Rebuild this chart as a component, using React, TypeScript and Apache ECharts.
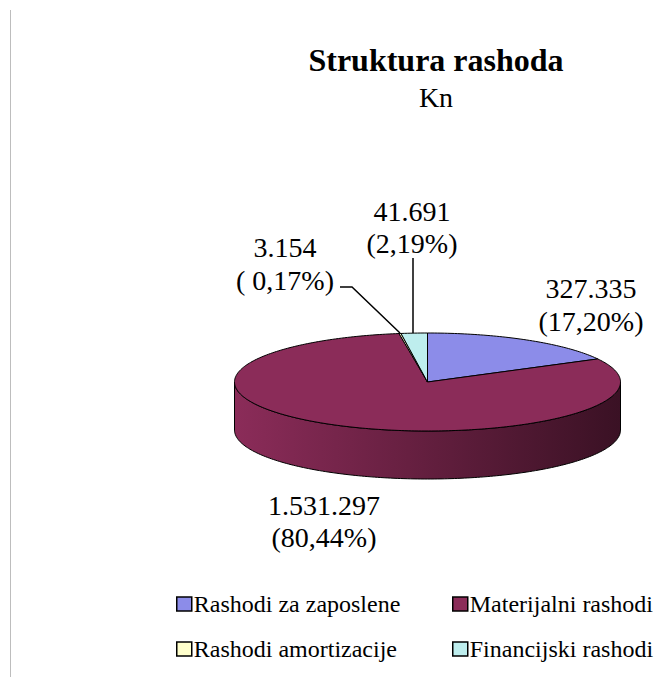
import React, { useEffect, useRef } from 'react';
import * as echarts from 'echarts';

const categories = ['Rashodi za zaposlene', 'Materijalni rashodi', 'Rashodi amortizacije', 'Financijski rashodi'];
const values = [327335, 1531297, 3154, 41691];
const percentLabels = ['17,20%', '80,44%', ' 0,17%', '2,19%'];

const colors = ['#8C8CE9', '#8B2C59', '#FFFFCC', '#BEEEEE'];
const sideDark = ['#3A3A80', '#3A1124', '#80806A', '#5A7A7A'];

const W = 662;
const H = 677;
const CX = 427.5;
const CY = 382;
const RX = 193;
const RY = 49;
const DEPTH = 48;

const FONT = 'Liberation Serif';

function fmt(v: number): string {
  return String(v).replace(/\B(?=(\d{3})+(?!\d))/g, '.');
}

const total = values.reduce((a, b) => a + b, 0);

function sliceAngles(i: number): [number, number] {
  let s = 0;
  for (let k = 0; k < i; k++) s += values[k];
  return [(s / total) * 360, ((s + values[i]) / total) * 360];
}

function pt(deg: number, dy = 0): number[] {
  const r = (deg * Math.PI) / 180;
  return [CX + RX * Math.sin(r), CY - RY * Math.cos(r) + dy];
}

function arc(a: number, b: number, dy = 0): number[][] {
  const pts: number[][] = [];
  const n = Math.max(2, Math.ceil(Math.abs(b - a) / 1));
  for (let j = 0; j <= n; j++) pts.push(pt(a + ((b - a) * j) / n, dy));
  return pts;
}

// label layout (positions only): centre x, then centre y of each line
const labelPos = [
  [591, 288, 321],
  [324, 505, 537],
  [285, 247, 280],
  [412, 211, 243],
];

export default function App() {
  const ref = useRef<HTMLDivElement>(null);

  useEffect(() => {
    if (!ref.current) return;
    const chart = echarts.init(ref.current, undefined, { renderer: 'svg' });

    const sideSeries: any = {
      type: 'custom',
      name: 'side',
      coordinateSystem: 'none',
      z: 1,
      silent: true,
      data: values.map((v, i) => [i, v]),
      renderItem: (params: any) => {
        const i = params.dataIndex;
        const [a, b] = sliceAngles(i);
        const lo = Math.max(a, 90);
        const hi = Math.min(b, 270);
        if (lo >= hi) return null;
        const points = [...arc(lo, hi, 0), ...arc(hi, lo, DEPTH)];
        return {
          type: 'polygon',
          shape: { points },
          style: {
            fill: new echarts.graphic.LinearGradient(
              CX - RX, 0, CX + RX, 0,
              [
                { offset: 0, color: colors[i] },
                { offset: 0.45, color: echarts.color.lerp(0.45, [colors[i], sideDark[i]]) as string },
                { offset: 1, color: sideDark[i] },
              ],
              true
            ),
            stroke: '#000',
            lineWidth: 1,
            lineJoin: 'round',
          },
        };
      },
    };

    const topSeries: any[] = categories.map((name, i) => ({
      type: 'custom',
      name,
      coordinateSystem: 'none',
      z: 3,
      silent: true,
      itemStyle: { color: colors[i] },
      data: [[values[i]]],
      renderItem: () => {
        const [a, b] = sliceAngles(i);
        return {
          type: 'polygon',
          shape: { points: [[CX, CY], ...arc(a, b, 0)] },
          style: { fill: colors[i], stroke: '#000', lineWidth: 1, lineJoin: 'round' },
        };
      },
    }));

    const legendPos = [
      [176, 592],
      [452, 592],
      [176, 637],
      [452, 637],
    ];

    const legends = categories.map((name, i) => ({
      data: [name],
      left: legendPos[i][0],
      top: legendPos[i][1],
      orient: 'horizontal',
      itemWidth: 15,
      itemHeight: 14,
      icon: 'rect',
      selectedMode: false,
      itemStyle: { borderColor: '#000', borderWidth: 1.5 },
      textStyle: { fontFamily: FONT, fontSize: 24, color: '#000', padding: [0, 0, 0, -3] },
      padding: 0,
    }));

    const labelGraphics: any[] = [];
    categories.forEach((_, i) => {
      const lines = [fmt(values[i]), `(${percentLabels[i]})`];
      lines.forEach((t, j) => {
        labelGraphics.push({
          type: 'text',
          x: labelPos[i][0],
          y: labelPos[i][1 + j],
          silent: true,
          style: {
            text: t,
            fontFamily: FONT,
            fontSize: 28,
            fill: '#000',
            textAlign: 'center',
            textVerticalAlign: 'middle',
          },
          z: 10,
        });
      });
    });

    chart.setOption({
      animation: false,
      backgroundColor: '#fff',
      legend: legends,
      graphic: [
        {
          type: 'line',
          shape: { x1: 10.5, y1: 10, x2: 10.5, y2: H },
          style: { stroke: '#BDBDBD', lineWidth: 1 },
          silent: true,
        },
        {
          type: 'text',
          x: 436,
          y: 60,
          style: {
            text: 'Struktura rashoda',
            fontFamily: FONT,
            fontWeight: 'bold',
            fontSize: 32,
            fill: '#000',
            textAlign: 'center',
            textVerticalAlign: 'middle',
          },
        },
        {
          type: 'text',
          x: 436,
          y: 97,
          style: {
            text: 'Kn',
            fontFamily: FONT,
            fontSize: 28,
            fill: '#000',
            textAlign: 'center',
            textVerticalAlign: 'middle',
          },
        },
        ...labelGraphics,
        {
          type: 'polyline',
          shape: { points: [[413, 258], [413, 333]] },
          style: { stroke: '#000', lineWidth: 1.5, fill: 'none' },
          z: 10,
        },
        {
          type: 'polyline',
          shape: { points: [[340, 287], [352, 287], [400, 333]] },
          style: { stroke: '#000', lineWidth: 1.5, fill: 'none' },
          z: 10,
        },
      ],
      series: [sideSeries, ...topSeries],
    });

    return () => chart.dispose();
  }, []);

  return (
    <div
      ref={ref}
      style={{ position: 'fixed', left: 0, top: 0, width: W, height: H }}
    />
  );
}
